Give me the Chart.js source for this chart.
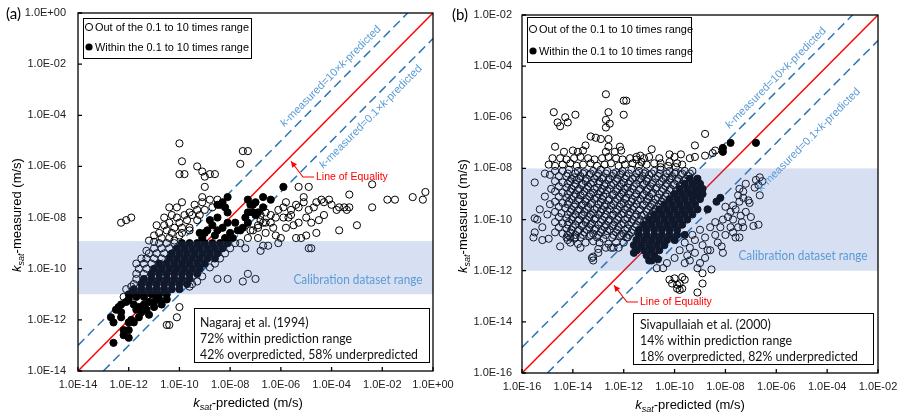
<!DOCTYPE html>
<html>
<head>
<meta charset="utf-8">
<script src="https://cdn.jsdelivr.net/npm/chart.js@4.4.1/dist/chart.umd.min.js"></script>
<style>
  body { margin: 0; background: #fff; overflow: hidden; }
  #wrap { position: relative; width: 901px; height: 416px; background: #fff; }
  canvas { position: absolute; top: 0; }
</style>
</head>
<body>
<div id="wrap">
  <canvas id="chartA" width="462" height="416" style="left:0"></canvas>
  <canvas id="chartB" width="451" height="416" style="left:450px"></canvas>
</div>
<script>
// values are log10 of k (m/s): [log10 predicted, log10 measured]
const seriesNames = ['Out of the 0.1 to 10 times range', 'Within the 0.1 to 10 times range'];

const aTicks = [1e-14, 1e-12, 1e-10, 1e-8, 1e-6, 1e-4, 1e-2, 1];
const bTicks = [1e-16, 1e-14, 1e-12, 1e-10, 1e-8, 1e-6, 1e-4, 1e-2];
const aCalib = [1e-11, 1.2e-9];
const bCalib = [1e-12, 1e-8];
const aInfo = ['Nagaraj et al. (1994)', '72% within prediction range', '42% overpredicted, 58% underpredicted'];
const bInfo = ['Sivapullaiah et al. (2000)', '14% within prediction range', '18% overpredicted, 82% underpredicted'];

const aWithin = [
  [-5.9,-6.8],[-6.7,-7.2],[-6.4,-7.3],[-7.3,-7.3],[-7.1,-7.5],[-8.1,-7.2],[-8.4,-7.5],[-8.3,-7.4],[-8.2,-7.6],[-7.2,-7.5],
  [-7.4,-8.0],[-7.1,-7.8],[-6.7,-7.6],[-8.8,-8.1],[-8.5,-8.0],[-8.9,-8.5],[-8.5,-8.5],[-8.3,-8.4],[-8.1,-8.2],[-7.7,-8.5],
  [-7.5,-8.4],[-8.0,-8.6],[-9.1,-8.8],[-9.2,-8.6],[-7.3,-8.2],[-7.6,-8.5],[-7.0,-7.4],[-7.0,-7.9],[-7.8,-8.2],[-8.6,-8.7],
  [-8.2,-8.8],[-7.9,-8.8],[-8.5,-7.5],[-8.1,-7.8],[-7.3,-7.8],[-6.9,-7.8],[-8.7,-8.3],[-9.0,-8.6],
  [-9.9,-9.0],[-9.6,-9.0],[-9.3,-9.0],[-9.0,-9.0],[-8.7,-9.0],[-8.4,-9.0],[-8.1,-9.0],
  [-10.1,-9.2],[-9.8,-9.2],[-9.5,-9.2],[-9.2,-9.2],[-8.9,-9.2],[-8.6,-9.2],[-8.3,-9.2],
  [-10.3,-9.4],[-10.0,-9.4],[-9.7,-9.4],[-9.4,-9.4],[-9.1,-9.4],[-8.8,-9.4],[-8.5,-9.4],
  [-10.4,-9.6],[-10.1,-9.6],[-9.8,-9.6],[-9.5,-9.6],[-9.2,-9.6],[-8.9,-9.6],[-8.6,-9.6],
  [-10.8,-9.8],[-10.5,-9.8],[-10.2,-9.8],[-9.9,-9.8],[-9.6,-9.8],[-9.3,-9.8],[-9.0,-9.8],
  [-11.0,-10.0],[-10.7,-10.0],[-10.4,-10.0],[-10.1,-10.0],[-9.8,-10.0],[-9.5,-10.0],[-9.2,-10.0],
  [-11.1,-10.2],[-10.8,-10.2],[-10.5,-10.2],[-10.2,-10.2],[-9.9,-10.2],[-9.6,-10.2],[-9.3,-10.2],
  [-11.4,-10.4],[-11.1,-10.4],[-10.8,-10.4],[-10.5,-10.4],[-10.2,-10.4],[-9.9,-10.4],[-9.6,-10.4],
  [-11.5,-10.6],[-11.2,-10.6],[-10.9,-10.6],[-10.6,-10.6],[-10.3,-10.6],[-10.0,-10.6],[-9.7,-10.6],
  [-11.8,-10.8],[-11.5,-10.8],[-11.2,-10.8],[-10.9,-10.8],[-10.6,-10.8],[-10.3,-10.8],[-10.0,-10.8],
  [-12.0,-11.0],[-11.7,-11.0],[-11.4,-11.0],[-11.1,-11.0],[-10.8,-11.0],[-10.5,-11.0],
  [-12.7,-11.9],[-12.6,-12.1],[-12.4,-11.5],[-12.3,-11.4],[-12.1,-11.3],[-12.0,-11.2],[-12.3,-11.9],[-12.3,-11.7],
  [-12.0,-12.1],[-11.9,-12.0],[-12.0,-12.4],[-12.0,-12.7],[-12.2,-12.6],[-12.6,-12.9],[-11.7,-11.6],[-11.6,-11.5],
  [-11.4,-11.4],[-11.2,-11.3],[-11.0,-11.3],[-11.8,-12.1],[-11.6,-11.9],[-11.0,-11.5],[-10.5,-11.2],[-11.4,-11.1],
  [-11.7,-11.1],[-11.9,-11.0],[-10.8,-11.2],[-10.9,-11.1],[-12.2,-12.4],[-11.5,-11.7],[-11.3,-11.6],[-12.5,-11.6],
  [-11.8,-11.4],[-10.7,-11.4],[-11.2,-11.8]
];

const aOut = [
  [-10.0,-5.1],[-9.9,-5.8],[-10.0,-6.3],[-9.8,-6.3],[-9.3,-6.0],[-9.1,-6.2],[-9.0,-6.4],[-8.8,-6.3],[-8.6,-6.3],[-9.0,-6.8],
  [-9.1,-7.2],[-7.6,-5.9],[-7.5,-5.4],[-7.3,-5.4],[-12.3,-8.2],[-12.1,-8.1],[-11.9,-8.0],[-10.4,-7.6],[-10.1,-7.6],[-9.9,-7.4],
  [-9.6,-7.8],[-9.3,-7.7],[-9.1,-7.4],[-8.8,-7.3],[-8.5,-7.3],[-10.4,-8.2],[-10.1,-8.0],[-9.9,-8.4],[-10.5,-8.5],[-10.3,-8.6],
  [-9.9,-8.6],[-9.6,-8.4],[-9.3,-8.1],[-9.6,-8.5],[-10.7,-8.8],[-10.0,-8.2],[-10.6,-8.0],[-10.8,-8.6],[-11.0,-8.7],[-10.2,-8.9],
  [-9.8,-7.9],[-10.3,-7.9],[-9.4,-7.5],[-10.9,-8.3],[-11.2,-8.9],[-10.6,-8.3],[-10.2,-8.4],[-9.7,-8.1],[-9.5,-7.9],[-9.2,-7.9],
  [-9.0,-7.7],[-8.7,-7.6],[-10.4,-8.8],[-10.0,-8.7],
  [-10.8,-9.0],[-10.5,-9.0],[-10.2,-9.0],[-11.0,-9.2],[-10.7,-9.2],[-10.4,-9.2],[-11.2,-9.4],[-10.9,-9.4],[-10.6,-9.4],
  [-11.3,-9.6],[-11.0,-9.6],[-10.7,-9.6],[-11.4,-9.8],[-11.1,-9.8],[-11.6,-10.0],[-11.3,-10.0],[-11.7,-10.2],[-11.4,-10.2],
  [-11.7,-10.4],[-11.8,-10.6],[-11.9,-10.7],[-12.1,-10.8],[-12.2,-11.1],[-11.0,-8.95],[-11.3,-9.3],[-11.5,-9.6],[-11.7,-9.8],
  [-7.8,-9.0],[-8.8,-9.95],[-8.0,-9.2],[-8.2,-9.4],[-8.4,-9.6],[-8.6,-9.8],[-7.6,-9.0],[-9.1,-10.3],[-9.3,-10.5],
  [-6.7,-9.1],[-6.5,-9.1],[-6.8,-9.3],[-7.4,-9.2],[-8.5,-10.4],[-8.1,-10.4],[-7.5,-10.5],[-7.3,-10.2],[-7.0,-10.4],
  [-4.8,-9.2],[-9.6,-10.7],[-9.5,-10.6],
  [-10.1,-11.9],[-10.0,-11.5],[-10.5,-12.2],[-10.4,-12.2],
  [-7.1,-8.5],[-6.9,-8.4],[-6.7,-8.2],[-6.4,-8.2],[-6.2,-8.0],[-5.9,-8.0],[-5.6,-7.9],[-5.7,-8.0],[-5.8,-8.4],[-5.5,-8.3],
  [-5.3,-8.2],[-6.2,-8.7],[-6.0,-8.8],[-6.1,-9.0],[-5.4,-8.8],[-5.2,-8.8],[-5.0,-8.7],[-4.6,-8.6],[-4.5,-8.1],[-4.9,-9.2],
  [-3.7,-8.5],[-3.0,-8.3],[-5.4,-7.5],[-5.3,-7.6],[-5.1,-7.4],[-4.9,-7.7],[-4.6,-7.4],[-4.3,-7.4],[-4.1,-7.3],[-3.8,-7.7],
  [-3.5,-7.6],[-3.3,-7.6],[-3.4,-7.7],[-2.4,-7.6],[-5.3,-6.8],[-4.9,-6.8],[-5.8,-7.4],[-5.1,-7.2],[-3.3,-7.1],[-2.4,-6.7],
  [-1.8,-7.3],[-1.5,-7.3],[-0.8,-7.2],[-0.4,-7.3],[-0.3,-7.0],[-3.7,-7.6],[-4.7,-7.6],[-6.8,-7.9],[-6.6,-7.8],[-6.4,-7.9],
  [-6.1,-7.7],[-5.9,-7.6],[-5.6,-7.7],[-6.8,-8.1],[-6.3,-8.4],[-6.6,-8.6],[-6.9,-8.8],[-5.0,-8.0],[-4.8,-8.2],[-4.3,-7.9],
  [-4.0,-7.5],[-6.6,-8.2],[-6.9,-8.3],[-7.2,-8.5],[-7.3,-8.8],[-4.4,-7.3]
];

const bWithin = [
  [-8.1,-7.2],[-8.1,-7.35],[-7.8,-7.0],[-6.8,-7.0],[-8.2,-9.15],[-8.35,-9.3],[-8.7,-9.6],[-9.1,-8.5],[-9.0,-8.8],[-9.2,-9.0],
  [-8.9,-9.0],[-11.0,-11.6],[-10.9,-11.6],[-10.65,-11.55],[-11.6,-11.3],[-11.5,-11.2],
  [-9.4,-8.4],[-9.1,-8.4],
  [-9.6,-8.6],[-9.3,-8.6],[-9.0,-8.6],
  [-9.8,-8.8],[-9.5,-8.8],[-9.2,-8.8],[-8.9,-8.8],
  [-10.0,-9.0],[-9.7,-9.0],[-9.4,-9.0],[-9.1,-9.0],
  [-10.2,-9.2],[-9.9,-9.2],[-9.6,-9.2],[-9.3,-9.2],[-9.0,-9.2],
  [-10.4,-9.4],[-10.1,-9.4],[-9.8,-9.4],[-9.5,-9.4],[-9.2,-9.4],
  [-10.6,-9.6],[-10.3,-9.6],[-10.0,-9.6],[-9.7,-9.6],[-9.4,-9.6],[-9.1,-9.6],
  [-10.8,-9.8],[-10.5,-9.8],[-10.2,-9.8],[-9.9,-9.8],[-9.6,-9.8],[-9.3,-9.8],
  [-11.0,-10.0],[-10.7,-10.0],[-10.4,-10.0],[-10.1,-10.0],[-9.8,-10.0],[-9.5,-10.0],
  [-11.2,-10.2],[-10.9,-10.2],[-10.6,-10.2],[-10.3,-10.2],[-10.0,-10.2],[-9.7,-10.2],
  [-11.4,-10.4],[-11.1,-10.4],[-10.8,-10.4],[-10.5,-10.4],[-10.2,-10.4],[-9.9,-10.4],
  [-11.4,-10.6],[-11.1,-10.6],[-10.8,-10.6],[-10.5,-10.6],[-10.2,-10.6],[-9.9,-10.6],[-9.6,-10.6],
  [-11.5,-10.8],[-11.2,-10.8],[-10.9,-10.8],[-10.6,-10.8],[-10.3,-10.8],[-10.0,-10.8],
  [-11.6,-11.0],[-11.3,-11.0],[-11.0,-11.0],[-10.7,-11.0],[-10.4,-11.0],
  [-11.5,-11.2],[-11.2,-11.2],[-10.9,-11.2],[-10.6,-11.2],
  [-11.1,-11.4],[-10.8,-11.4]
];

const bOut = [
  [-12.7,-5.1],[-12.0,-5.35],[-11.9,-5.35],[-12.6,-5.8],[-12.0,-5.9],[-12.7,-6.1],[-12.55,-6.25],[-12.7,-6.4],
  [-14.75,-5.8],[-14.6,-6.2],[-14.3,-6.0],[-14.2,-6.2],[-14.5,-6.35],[-13.9,-5.9],
  [-14.7,-7.15],[-13.5,-7.1],[-13.3,-6.75],[-13.1,-6.8],[-12.9,-6.85],[-12.6,-6.85],[-12.6,-7.15],[-12.15,-7.15],
  [-10.9,-7.25],[-9.2,-7.1],[-8.8,-6.65],[-9.2,-7.55],[-9.4,-7.6],[-8.4,-7.3],[-8.5,-7.4],[-8.8,-7.5],[-11.3,-7.75],[-11.0,-7.55],
  [-14.35,-7.35],[-14.0,-7.3],[-13.8,-7.35],[-13.6,-7.3],[-12.7,-7.35],[-12.35,-7.35],[-12.1,-7.3],[-11.5,-7.55],[-11.35,-7.5],
  [-10.2,-7.45],[-9.75,-7.45],[-10.55,-7.8],[-10.2,-7.75],[-9.9,-7.8],
  [-14.8,-7.6],[-14.5,-7.6],[-14.25,-7.65],[-13.95,-7.6],[-13.7,-7.55],[-13.4,-7.6],[-13.15,-7.65],[-12.85,-7.6],[-12.6,-7.55],
  [-12.3,-7.6],[-12.05,-7.65],[-11.75,-7.6],[-11.5,-7.65],[-11.2,-7.6],[-10.6,-7.6],[-10.0,-7.55],
  [-14.95,-7.85],[-14.7,-7.9],[-14.4,-7.85],[-14.1,-7.8],[-13.85,-7.9],[-13.6,-7.85],[-13.3,-7.8],[-13.05,-7.9],[-12.75,-7.85],
  [-12.5,-7.8],[-12.2,-7.9],[-11.95,-7.85],[-11.65,-7.8],[-11.4,-7.9],[-11.1,-7.85],[-10.8,-7.8],[-10.55,-7.95],[-10.25,-7.9],
  [-9.95,-7.95],[-9.7,-7.85],
  [-14.7,-8.1],[-14.4,-8.1],[-14.15,-8.05],[-13.8,-8.1],[-13.55,-8.15],[-13.2,-8.1],[-12.9,-8.05],[-12.65,-8.1],[-12.3,-8.15],
  [-12.05,-8.1],[-11.7,-8.05],[-11.4,-8.1],[-11.15,-8.15],[-10.8,-8.1],[-10.55,-8.05],[-10.2,-8.1],[-9.95,-8.15],[-9.6,-8.1],[-9.3,-8.1],
  [-14.2,-8.2],[-13.9,-8.2],[-13.6,-8.2],[-13.3,-8.2],[-13.0,-8.2],[-12.7,-8.2],[-12.4,-8.2],[-12.1,-8.2],[-11.8,-8.2],
  [-11.5,-8.2],[-11.2,-8.2],[-10.9,-8.2],[-10.6,-8.2],[-10.3,-8.2],[-10.0,-8.2],[-9.7,-8.2],[-9.4,-8.2],
  [-14.55,-8.3],[-14.25,-8.3],[-13.95,-8.35],[-13.7,-8.3],[-13.35,-8.25],[-13.05,-8.3],[-12.8,-8.35],[-12.45,-8.3],[-12.15,-8.25],
  [-11.9,-8.3],[-11.55,-8.35],[-11.25,-8.3],[-11.0,-8.25],[-10.65,-8.3],[-10.35,-8.35],[-10.1,-8.3],[-9.75,-8.25],[-9.45,-8.3],
  [-14.05,-8.4],[-13.75,-8.4],[-13.45,-8.4],[-13.15,-8.4],[-12.85,-8.4],[-12.55,-8.4],[-12.25,-8.4],[-11.95,-8.4],
  [-11.65,-8.4],[-11.35,-8.4],[-11.05,-8.4],[-10.75,-8.4],[-10.45,-8.4],[-10.15,-8.4],[-9.85,-8.4],[-9.55,-8.4],
  [-14.7,-8.5],[-14.4,-8.55],[-14.1,-8.5],[-13.85,-8.45],[-13.5,-8.5],[-13.2,-8.55],[-12.95,-8.5],[-12.6,-8.45],[-12.3,-8.5],
  [-12.0,-8.55],[-11.75,-8.5],[-11.4,-8.45],[-11.1,-8.5],[-10.85,-8.55],[-10.5,-8.5],[-10.2,-8.45],[-9.9,-8.5],[-9.65,-8.5],
  [-14.2,-8.6],[-13.9,-8.6],[-13.6,-8.6],[-13.3,-8.6],[-13.0,-8.6],[-12.7,-8.6],[-12.4,-8.6],[-12.1,-8.6],
  [-11.8,-8.6],[-11.5,-8.6],[-11.2,-8.6],[-10.9,-8.6],[-10.6,-8.6],[-10.3,-8.6],[-10.0,-8.6],[-9.7,-8.6],
  [-14.55,-8.7],[-14.25,-8.75],[-13.95,-8.7],[-13.65,-8.65],[-13.4,-8.7],[-13.05,-8.75],[-12.75,-8.7],[-12.5,-8.65],[-12.15,-8.7],
  [-11.85,-8.75],[-11.6,-8.7],[-11.25,-8.65],[-10.95,-8.7],[-10.7,-8.75],[-10.35,-8.7],[-10.05,-8.65],[-9.8,-8.7],
  [-14.05,-8.8],[-13.75,-8.8],[-13.45,-8.8],[-13.15,-8.8],[-12.85,-8.8],[-12.55,-8.8],[-12.25,-8.8],
  [-11.95,-8.8],[-11.65,-8.8],[-11.35,-8.8],[-11.05,-8.8],[-10.75,-8.8],[-10.45,-8.8],[-10.15,-8.8],
  [-14.7,-8.9],[-14.4,-8.95],[-14.1,-8.9],[-13.8,-8.85],[-13.55,-8.9],[-13.2,-8.95],[-12.9,-8.9],[-12.65,-8.85],[-12.3,-8.9],
  [-12.0,-8.95],[-11.75,-8.9],[-11.4,-8.85],[-11.1,-8.9],[-10.85,-8.95],[-10.5,-8.9],[-10.2,-8.85],[-9.95,-8.9],
  [-14.2,-9.0],[-13.9,-9.0],[-13.6,-9.0],[-13.3,-9.0],[-13.0,-9.0],[-12.7,-9.0],[-12.4,-9.0],
  [-12.1,-9.0],[-11.8,-9.0],[-11.5,-9.0],[-11.2,-9.0],[-10.9,-9.0],[-10.6,-9.0],[-10.3,-9.0],
  [-14.55,-9.1],[-14.25,-9.15],[-13.95,-9.1],[-13.7,-9.05],[-13.35,-9.1],[-13.05,-9.15],[-12.8,-9.1],[-12.45,-9.05],[-12.15,-9.1],
  [-11.9,-9.15],[-11.55,-9.1],[-11.25,-9.05],[-11.0,-9.1],[-10.65,-9.15],[-10.35,-9.1],
  [-14.05,-9.2],[-13.75,-9.2],[-13.45,-9.2],[-13.15,-9.2],[-12.85,-9.2],[-12.55,-9.2],[-12.25,-9.2],
  [-11.95,-9.2],[-11.65,-9.2],[-11.35,-9.2],[-11.05,-9.2],[-10.75,-9.2],[-10.45,-9.2],
  [-14.7,-9.3],[-14.4,-9.35],[-14.15,-9.3],[-13.8,-9.25],[-13.5,-9.3],[-13.25,-9.35],[-12.9,-9.3],[-12.6,-9.25],[-12.35,-9.3],
  [-12.0,-9.35],[-11.7,-9.3],[-11.45,-9.25],[-11.1,-9.3],[-10.8,-9.35],[-10.5,-9.3],
  [-14.2,-9.4],[-13.9,-9.4],[-13.6,-9.4],[-13.3,-9.4],[-13.0,-9.4],[-12.7,-9.4],[-12.4,-9.4],
  [-12.1,-9.4],[-11.8,-9.4],[-11.5,-9.4],[-11.2,-9.4],[-10.9,-9.4],[-10.6,-9.4],
  [-14.55,-9.5],[-14.3,-9.55],[-13.95,-9.5],[-13.65,-9.45],[-13.4,-9.5],[-13.05,-9.55],[-12.75,-9.5],[-12.5,-9.45],[-12.15,-9.5],
  [-11.85,-9.55],[-11.6,-9.5],[-11.25,-9.45],[-10.95,-9.5],[-10.65,-9.5],
  [-14.05,-9.6],[-13.75,-9.6],[-13.45,-9.6],[-13.15,-9.6],[-12.85,-9.6],[-12.55,-9.6],
  [-12.25,-9.6],[-11.95,-9.6],[-11.65,-9.6],[-11.35,-9.6],[-11.05,-9.6],[-10.75,-9.6],
  [-14.7,-9.7],[-14.45,-9.75],[-14.1,-9.7],[-13.8,-9.65],[-13.55,-9.7],[-13.2,-9.75],[-12.9,-9.7],[-12.65,-9.65],[-12.3,-9.7],
  [-12.0,-9.75],[-11.75,-9.7],[-11.4,-9.65],[-11.1,-9.7],[-10.85,-9.7],
  [-14.2,-9.8],[-13.9,-9.8],[-13.6,-9.8],[-13.3,-9.8],[-13.0,-9.8],[-12.7,-9.8],
  [-12.4,-9.8],[-12.1,-9.8],[-11.8,-9.8],[-11.5,-9.8],[-11.2,-9.8],[-10.9,-9.8],
  [-14.55,-9.9],[-14.25,-9.95],[-14.0,-9.9],[-13.65,-9.85],[-13.35,-9.9],[-13.1,-9.95],[-12.75,-9.9],[-12.45,-9.85],[-12.2,-9.9],
  [-11.85,-9.95],[-11.55,-9.9],[-11.3,-9.85],[-11.0,-9.9],
  [-14.05,-10.0],[-13.75,-10.0],[-13.45,-10.0],[-13.15,-10.0],[-12.85,-10.0],
  [-12.55,-10.0],[-12.25,-10.0],[-11.95,-10.0],[-11.65,-10.0],[-11.35,-10.0],
  [-14.7,-10.1],[-14.4,-10.15],[-14.15,-10.1],[-13.8,-10.05],[-13.5,-10.1],[-13.25,-10.15],[-12.9,-10.1],[-12.6,-10.05],
  [-12.35,-10.1],[-12.0,-10.15],[-11.7,-10.1],[-11.4,-10.05],[-11.2,-10.1],
  [-14.2,-10.2],[-13.9,-10.2],[-13.6,-10.2],[-13.3,-10.2],[-13.0,-10.2],
  [-12.7,-10.2],[-12.4,-10.2],[-12.1,-10.2],[-11.8,-10.2],[-11.5,-10.2],
  [-14.55,-10.3],[-14.25,-10.35],[-14.0,-10.3],[-13.65,-10.25],[-13.35,-10.3],[-13.1,-10.35],[-12.75,-10.3],[-12.45,-10.25],
  [-12.2,-10.3],[-11.85,-10.35],[-11.55,-10.3],
  [-14.05,-10.4],[-13.75,-10.4],[-13.45,-10.4],[-13.15,-10.4],[-12.85,-10.4],
  [-12.55,-10.4],[-12.25,-10.4],[-11.95,-10.4],[-11.65,-10.4],
  [-14.7,-10.5],[-14.4,-10.55],[-14.1,-10.5],[-13.8,-10.45],[-13.55,-10.5],[-13.2,-10.55],[-12.9,-10.5],[-12.65,-10.45],
  [-12.3,-10.5],[-12.0,-10.55],[-11.7,-10.5],
  [-14.2,-10.6],[-13.9,-10.6],[-13.6,-10.6],[-13.3,-10.6],[-13.0,-10.6],
  [-12.7,-10.6],[-12.4,-10.6],[-12.1,-10.6],[-11.8,-10.6],
  [-14.25,-10.7],[-13.95,-10.75],[-13.7,-10.7],[-13.35,-10.65],[-13.05,-10.7],[-12.8,-10.75],[-12.45,-10.7],[-12.15,-10.65],[-11.85,-10.7],
  [-14.1,-10.9],[-13.8,-10.95],[-13.5,-10.9],[-13.2,-10.85],[-12.95,-10.9],[-12.6,-10.95],[-12.3,-10.9],[-12.0,-10.9],
  [-13.7,-11.1],[-13.0,-11.15],[-12.5,-11.1],[-12.2,-11.1],
  [-15.5,-8.55],[-15.1,-8.2],[-14.9,-8.25],[-14.85,-8.8],[-15.1,-9.1],[-14.9,-9.4],[-15.4,-10.0],[-15.5,-10.5],[-15.2,-10.8],
  [-15.55,-10.7],[-15.5,-9.95],[-15.2,-10.3],[-14.95,-10.75],[-14.5,-11.05],[-14.2,-10.8],[-15.3,-9.6],[-15.0,-9.8],
  [-13.2,-11.6],[-13.0,-11.3],[-12.7,-11.1],[-12.4,-11.1],[-13.25,-11.5],[-13.2,-11.45],[-14.1,-10.7],[-13.9,-10.7],[-11.9,-10.7],
  [-6.8,-8.45],[-6.65,-8.35],[-6.7,-8.65],[-6.55,-8.5],[-6.85,-8.75],[-6.65,-9.05],[-7.45,-8.8],[-7.3,-8.9],[-7.5,-9.05],
  [-7.3,-9.15],[-7.45,-9.3],[-7.1,-9.25],[-7.05,-9.35],[-6.9,-10.25],[-6.7,-10.2],[-7.6,-10.7],[-7.45,-10.7],[-8.15,-11.05],
  [-8.1,-11.3],[-8.55,-11.95],[-8.9,-12.1],[-8.9,-12.5],[-9.1,-12.85],[-7.7,-10.0],[-7.9,-9.9],[-8.1,-10.0],[-7.8,-9.7],
  [-8.0,-9.5],[-8.4,-10.1],[-8.3,-10.9],[-8.6,-11.2],[-8.8,-11.5],[-9.0,-11.7],[-9.1,-11.9],
  [-10.2,-12.35],[-10.0,-12.3],[-9.7,-12.25],[-9.9,-12.55],[-9.7,-12.7],[-9.6,-12.35],[-9.8,-12.75],[-9.9,-12.7],[-10.1,-12.5],
  [-9.8,-12.5],[-10.7,-11.9],[-10.45,-11.9],
  [-9.6,-10.9],[-9.4,-11.1],[-9.2,-11.3],[-9.5,-11.4],[-9.8,-11.2],[-9.3,-10.6],[-9.0,-10.4],[-9.2,-10.8],[-8.8,-10.7],
  [-8.6,-10.3],[-8.4,-10.6],[-8.9,-11.0],[-9.6,-11.7],[-10.0,-11.5],[-10.3,-11.7],[-9.4,-11.6],[-8.7,-11.2],
  [-7.7,-9.45],[-7.2,-8.6],[-7.6,-9.6],[-7.4,-9.85],[-7.2,-9.7],[-7.0,-9.9],[-7.3,-10.3],[-7.5,-10.3],[-7.8,-10.3],
  [-8.0,-10.6],[-7.7,-10.5],[-8.2,-10.3],[-7.35,-10.1]
];

const lg = v => ({ x: Math.pow(10, v[0]), y: Math.pow(10, v[1]) });

function fmtTick(v) {
  const e = Math.round(Math.log10(v));
  return '1.0E' + (e < 0 ? '-' : '+') + String(Math.abs(e)).padStart(2, '0');
}

function richText(ctx, parts, cx, cy, rot) {
  ctx.save();
  ctx.translate(cx, cy);
  ctx.rotate(rot);
  let w = 0;
  parts.forEach(pt => { ctx.font = pt[1]; w += ctx.measureText(pt[0]).width; });
  let cur = -w / 2;
  ctx.textAlign = 'left';
  parts.forEach(pt => {
    ctx.font = pt[1];
    ctx.fillText(pt[0], cur, pt[2] || 0);
    cur += ctx.measureText(pt[0]).width;
  });
  ctx.restore();
}

function slanted(chart, xv, f, off, mid) {
  const { ctx, scales: { x, y } } = chart;
  const x1 = x.getPixelForValue(xv), y1 = y.getPixelForValue(xv * f);
  const x2 = x.getPixelForValue(xv * 10), y2 = y.getPixelForValue(xv * 10 * f);
  const ang = Math.atan2(y2 - y1, x2 - x1);
  const nx = Math.sin(ang), ny = -Math.cos(ang);
  ctx.fillStyle = '#5b9bd5';
  ctx.textBaseline = 'middle';
  const it = 'italic 11px "Liberation Sans"', rg = '11px "Liberation Sans"';
  richText(ctx, [['k', it], ['-measured=' + mid + '\u00d7', rg], ['k', it], ['-predicted', rg]],
    x1 + nx * off, y1 + ny * off, ang);
}

function deco(p) {
  return {
    id: 'deco',
    afterDatasetsDraw(chart) {
      const { ctx, chartArea: a, scales: { y } } = chart;
      const t = y.getPixelForValue(p.calib[1]), b = y.getPixelForValue(p.calib[0]);
      ctx.save();
      ctx.fillStyle = 'rgba(68,114,196,0.22)';
      ctx.fillRect(a.left, t, a.right - a.left, b - t);
      ctx.restore();
    },
    afterDraw(chart) {
      const { ctx, chartArea: a, scales: { x, y } } = chart;
      ctx.save();
      // frame and inside tick marks
      ctx.strokeStyle = '#000';
      ctx.lineWidth = 1.3;
      ctx.strokeRect(a.left, a.top, a.right - a.left, a.bottom - a.top);
      ctx.beginPath();
      p.ticks.forEach(v => {
        const px = x.getPixelForValue(v), py = y.getPixelForValue(v);
        ctx.moveTo(px, a.bottom); ctx.lineTo(px, a.bottom - 4);
        ctx.moveTo(a.left, py); ctx.lineTo(a.left + 4, py);
      });
      ctx.stroke();

      slanted(chart, p.up, 10, 10, '10');
      slanted(chart, p.low, 0.1, p.lowOff, '0.1');

      // calibration label
      ctx.fillStyle = '#5b9bd5';
      ctx.font = '13px Lato';
      ctx.textAlign = 'center';
      ctx.textBaseline = 'middle';
      ctx.fillText('Calibration dataset range', p.calibText[0], p.calibText[1], 129);

      // line of equality callout
      const tipX = x.getPixelForValue(p.eqAt) + 1, tipY = y.getPixelForValue(p.eqAt) + 4;
      ctx.strokeStyle = '#ff0000';
      ctx.fillStyle = '#ff0000';
      ctx.lineWidth = 1.1;
      ctx.beginPath();
      ctx.moveTo(p.eqText[0] - 2, p.eqText[1]);
      ctx.lineTo(p.eqBend[0], p.eqBend[1]);
      ctx.lineTo(tipX, tipY);
      ctx.stroke();
      const dx = tipX - p.eqBend[0], dy = tipY - p.eqBend[1], dl = Math.hypot(dx, dy);
      const ux = dx / dl, uy = dy / dl;
      ctx.beginPath();
      ctx.moveTo(tipX, tipY);
      ctx.lineTo(tipX - ux * 6 - uy * 3, tipY - uy * 6 + ux * 3);
      ctx.lineTo(tipX - ux * 6 + uy * 3, tipY - uy * 6 - ux * 3);
      ctx.closePath();
      ctx.fill();
      ctx.font = '10.5px "Liberation Sans"';
      ctx.textAlign = 'left';
      ctx.fillText('Line of Equality', p.eqText[0], p.eqText[1]);

      // legend
      const L = p.legend;
      ctx.fillStyle = '#fff';
      ctx.fillRect(L.x, L.y, L.w, L.h);
      ctx.strokeStyle = '#000';
      ctx.lineWidth = 1;
      ctx.strokeRect(L.x + 0.5, L.y + 0.5, L.w, L.h);
      ctx.font = '11px "Liberation Sans"';
      ctx.fillStyle = '#000';
      seriesNames.forEach((name, i) => {
        ctx.beginPath();
        ctx.arc(L.mx, L.rows[i], 3.6, 0, Math.PI * 2);
        if (i === 0) ctx.stroke(); else ctx.fill();
        ctx.fillText(name, L.tx, L.rows[i] + 0.5, 154);
      });

      // info box
      const B = p.info;
      ctx.fillStyle = '#fff';
      ctx.fillRect(B.x, B.y, B.w, B.h);
      ctx.strokeRect(B.x + 0.5, B.y + 0.5, B.w, B.h);
      ctx.font = '14px Lato';
      ctx.fillStyle = '#111';
      const longest = Math.max(...p.lines.map(s => ctx.measureText(s).width));
      const sx = B.maxW / longest;
      p.lines.forEach((s, i) => {
        ctx.save();
        ctx.translate(B.tx, B.rows[i]);
        ctx.scale(sx, 1);
        ctx.fillText(s, 0, 0);
        ctx.restore();
      });

      // axis titles
      ctx.fillStyle = '#000';
      ctx.textBaseline = 'alphabetic';
      const ki = 'italic 13px "Liberation Sans"', si = 'italic 9px "Liberation Sans"', rg = '13px "Liberation Sans"';
      richText(ctx, [['k', ki], ['sat', si, 3], ['-predicted (m/s)', rg]], p.xTitle[0], p.xTitle[1], 0);
      richText(ctx, [['k', ki], ['sat', si, 3], ['-measured (m/s)', rg]], p.yTitle[0], p.yTitle[1], -Math.PI / 2);

      ctx.font = '15px Lato';
      ctx.textAlign = 'left';
      ctx.textBaseline = 'middle';
      ctx.fillText(p.panel, p.panelPos[0], p.panelPos[1]);
      ctx.restore();
    }
  };
}

function makeChart(id, p) {
  const lo = p.ticks[0], hi = p.ticks[p.ticks.length - 1];
  const tickFont = { family: 'Liberation Sans', size: 11 };
  return new Chart(document.getElementById(id), {
    type: 'scatter',
    data: {
      datasets: [
        { data: p.within.map(lg), backgroundColor: '#000', borderColor: '#000', borderWidth: 1, pointRadius: 3.6 },
        { data: p.out.map(lg), backgroundColor: 'rgba(0,0,0,0)', borderColor: '#000', borderWidth: 1, pointRadius: 3.6 },
        { data: [{ x: lo, y: lo }, { x: hi, y: hi }], showLine: true, borderColor: '#ff0000', borderWidth: 1.5, pointRadius: 0 },
        { data: [{ x: lo, y: lo * 10 }, { x: hi / 10, y: hi }], showLine: true, borderColor: '#2e75b6', borderWidth: 1.5, borderDash: [9, 5], pointRadius: 0 },
        { data: [{ x: lo * 10, y: lo }, { x: hi, y: hi / 10 }], showLine: true, borderColor: '#2e75b6', borderWidth: 1.5, borderDash: [9, 5], pointRadius: 0 }
      ]
    },
    options: {
      responsive: false,
      animation: false,
      events: [],
      devicePixelRatio: 1,
      layout: { padding: p.pad },
      plugins: { legend: { display: false }, tooltip: { enabled: false } },
      scales: {
        x: {
          type: 'logarithmic', min: lo, max: hi,
          grid: { display: false, drawTicks: false },
          border: { display: false },
          afterBuildTicks: s => { s.ticks = p.ticks.map(v => ({ value: v })); },
          afterFit: s => { s.height = p.xh; s.paddingLeft = 0; s.paddingRight = 0; },
          ticks: { callback: fmtTick, padding: 7, maxRotation: 0, autoSkip: false, color: '#222', font: tickFont }
        },
        y: {
          type: 'logarithmic', min: lo, max: hi,
          grid: { display: false, drawTicks: false },
          border: { display: false },
          afterBuildTicks: s => { s.ticks = p.ticks.map(v => ({ value: v })); },
          afterFit: s => { s.width = p.yw; s.paddingTop = 0; s.paddingBottom = 0; },
          ticks: { callback: fmtTick, padding: p.ypad, autoSkip: false, color: '#222', font: tickFont }
        }
      }
    },
    plugins: [deco(p)]
  });
}

makeChart('chartA', {
  ticks: aTicks, within: aWithin, out: aOut, calib: aCalib, lines: aInfo,
  pad: { left: 0, right: 29, top: 13, bottom: 0 }, xh: 45, yw: 78, ypad: 12,
  up: Math.pow(10, -3.75), low: Math.pow(10, -2.76), lowOff: -11,
  calibText: [358, 280],
  eqAt: Math.pow(10, -5.64), eqText: [316, 177], eqBend: [303, 177],
  legend: { x: 83, y: 18, w: 168, h: 40, mx: 89, tx: 95, rows: [27, 47] },
  info: { x: 194, y: 308, w: 235, h: 54, tx: 200, rows: [322.5, 338.5, 354], maxW: 218 },
  xTitle: [248, 407], yTitle: [21, 215], panel: '(a)', panelPos: [6, 14]
});

makeChart('chartB', {
  ticks: bTicks, within: bWithin, out: bOut, calib: bCalib, lines: bInfo,
  pad: { left: 0, right: 23, top: 15, bottom: 0 }, xh: 43, yw: 72, ypad: 10,
  up: Math.pow(10, -5.74), low: Math.pow(10, -5.30), lowOff: -21,
  calibText: [353, 256],
  eqAt: Math.pow(10, -12.42), eqText: [190, 302], eqBend: [177, 302],
  legend: { x: 77, y: 17, w: 164, h: 45, mx: 83, tx: 89, rows: [29, 51] },
  info: { x: 183, y: 313, w: 240, h: 51, tx: 190, rows: [324, 340, 356], maxW: 218 },
  xTitle: [240, 409], yTitle: [17, 216], panel: '(b)', panelPos: [2, 15]
});
</script>
</body>
</html>
